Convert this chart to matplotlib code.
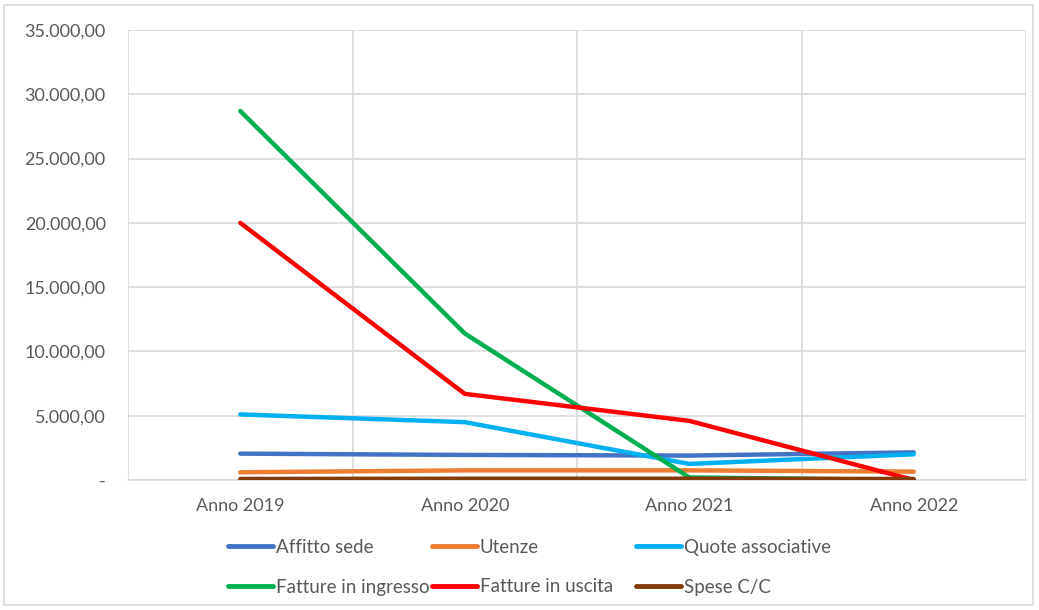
import matplotlib
matplotlib.use("Agg")
import matplotlib.pyplot as plt
from matplotlib.patches import Rectangle
from matplotlib.ticker import FuncFormatter

categories = ["Anno 2019", "Anno 2020", "Anno 2021", "Anno 2022"]
affitto = [2050, 1950, 1900, 2150]
utenze = [600, 750, 750, 650]
quote = [5100, 4500, 1250, 2000]
fatt_in = [28700, 11400, 200, 0]
fatt_out = [20000, 6700, 4600, 0]
spese = [80, 100, 100, 80]

series = [
    ("Affitto sede", affitto, "#4472C4"),
    ("Utenze", utenze, "#ED7D31"),
    ("Quote associative", quote, "#00B0F0"),
    ("Fatture in ingresso", fatt_in, "#00B050"),
    ("Fatture in uscita", fatt_out, "#FF0000"),
    ("Spese C/C", spese, "#843C0C"),
]

plt.rcParams['font.family'] = ['Lato', 'DejaVu Sans']
W, H = 1039, 610
fig = plt.figure(figsize=(W / 100, H / 100), dpi=100)
fig.patches.append(Rectangle((4 / W, 5 / H), 1029 / W, 600 / H, transform=fig.transFigure,
                             fill=False, edgecolor="#d9d9d9", linewidth=1.2))
ax = fig.add_axes([128 / W, 1 - 480 / H, 898 / W, 450 / H])

x = [i + 0.5 for i in range(len(categories))]
handles = []
for name, vals, col in series:
    ln, = ax.plot(x, vals, color=col, linewidth=3.2, solid_capstyle="round",
                  solid_joinstyle="round", label=name, zorder=3)
    handles.append(ln)

ax.set_xlim(0, 4)
ax.set_ylim(0, 35000)
ax.set_yticks(range(0, 35001, 5000))
ax.set_xticks(x)
ax.set_xticklabels(categories)

def fmt(v, pos):
    if v == 0:
        return "-"
    s = f"{int(v):,}".replace(",", ".")
    return s + ",00"

ax.yaxis.set_major_formatter(FuncFormatter(fmt))
ax.set_xticks([0, 1, 2, 3, 4], minor=True)
ax.grid(True, which="major", axis="y", color="#d9d9d9", linewidth=1.2)
ax.grid(True, which="minor", axis="x", color="#d9d9d9", linewidth=1.2)
ax.set_axisbelow(True)
for s in ["top", "right", "left"]:
    ax.spines[s].set_visible(False)
ax.spines["bottom"].set_color("#d9d9d9")
ax.spines["bottom"].set_linewidth(1.2)
ax.tick_params(axis="both", which="both", length=0, labelsize=13, colors="#595959")
ax.tick_params(axis="y", pad=16)
ax.tick_params(axis="x", pad=13)

# legend in three columns, two rows
col_x = [228, 432, 636]
for c in range(3):
    hs = [handles[c], handles[c + 3]]
    leg = fig.legend(hs, [h.get_label() for h in hs], loc="upper left",
                     bbox_to_anchor=(col_x[c] / W, 1 - 539 / H), frameon=False,
                     fontsize=13.5, handlelength=2.4, handletextpad=0.15,
                     labelspacing=1.2, borderaxespad=0, borderpad=0)
    for t in leg.get_texts():
        t.set_color("#595959")
    for lh in leg.get_lines():
        lh.set_linewidth(3.5)
        lh.set_solid_capstyle("round")

fig.savefig("out.png", dpi=100)
